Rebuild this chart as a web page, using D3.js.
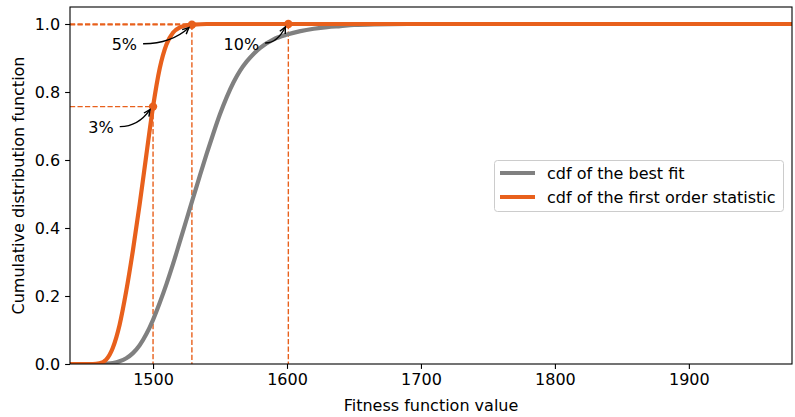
<!DOCTYPE html>
<html><head><meta charset="utf-8">
<script src="https://cdn.jsdelivr.net/npm/d3@7"></script>
<style>body{margin:0;background:#fff}svg{display:block}text{font-family:"DejaVu Sans",sans-serif;fill:#000}</style>
</head><body><svg id="c" width="795" height="417"></svg>
<script>
const xTicks = [1500, 1600, 1700, 1800, 1900];
const yTicks = [0.0, 0.2, 0.4, 0.6, 0.8, 1.0];
const xDomain = [1438, 1977];
const yDomain = [0, 1.05];
const seriesNames = ["cdf of the best fit", "cdf of the first order statistic"];
const bestFitX = [1438,1460,1465,1470,1475,1480,1485,1490,1495,1500,1505,1510,1515,1520,1525,1530,1535,1540,1545,1550,1555,1560,1565,1570,1575,1580,1590,1600,1610,1620,1630,1640,1650,1665,1690,1977];
const bestFitY = [0,0,0.001,0.003,0.008,0.017,0.032,0.055,0.088,0.13,0.18,0.235,0.295,0.36,0.425,0.49,0.555,0.618,0.678,0.735,0.785,0.828,0.863,0.89,0.912,0.93,0.955,0.969,0.979,0.986,0.991,0.994,0.997,0.999,1.0,1.0];
const orderX = [1438,1455,1460,1465,1470,1475,1480,1485,1490,1495,1500,1505,1510,1515,1520,1525,1530,1540,1977];
const orderY = [0,0,0.002,0.013,0.048,0.115,0.215,0.335,0.47,0.615,0.757,0.87,0.94,0.975,0.99,0.996,0.998,1.0,1.0];
const markX = [1500, 1529, 1601];
const markY = [0.757, 0.998, 1.0];
const markLabels = ["3%", "5%", "10%"];

const W = 795, H = 417;
const L = 70, R = 792, T = 7, B = 364;
const FS = "16px";
const orange = "#E8601C", grey = "#808080";
const svg = d3.select("#c");
const x = d3.scaleLinear().domain(xDomain).range([L, R]);
const y = d3.scaleLinear().domain(yDomain).range([B, T]);

svg.append("defs").append("clipPath").attr("id","clip")
  .append("rect").attr("x",L).attr("y",T).attr("width",R-L).attr("height",B-T);

const plot = svg.append("g").attr("clip-path","url(#clip)");
const line = d3.line().x(d=>x(d[0])).y(d=>y(d[1])).curve(d3.curveMonotoneX);

// dashed guide lines
markX.forEach((mx,i)=>{
  plot.append("line").attr("x1",x(xDomain[0])).attr("x2",x(mx)).attr("y1",y(markY[i])).attr("y2",y(markY[i]))
    .attr("stroke",orange).attr("stroke-width",1.4).attr("stroke-dasharray","5.2,2.3");
  plot.append("line").attr("x1",x(mx)).attr("x2",x(mx)).attr("y1",y(markY[i])).attr("y2",y(0))
    .attr("stroke",orange).attr("stroke-width",1.4).attr("stroke-dasharray","5.2,2.3");
});

plot.append("path").datum(d3.zip(bestFitX,bestFitY)).attr("d",line)
  .attr("fill","none").attr("stroke",grey).attr("stroke-width",4.2);
plot.append("path").datum(d3.zip(orderX,orderY)).attr("d",line)
  .attr("fill","none").attr("stroke",orange).attr("stroke-width",4.2);

svg.selectAll("circle.m").data(markX).enter().append("circle").attr("class","m")
  .attr("cx",d=>x(d)).attr("cy",(d,i)=>y(markY[i])).attr("r",4.2).attr("fill",orange);

// annotations
const offs = [[-52,21],[-67.5,20],[-47,20]];
markX.forEach((mx,i)=>{
  const px = x(mx), py = y(markY[i]);
  const tx = px+offs[i][0], ty = py+offs[i][1];
  const t = svg.append("text").attr("x",tx).attr("y",ty).attr("text-anchor","middle")
    .attr("dominant-baseline","central").attr("font-size",FS).text(markLabels[i]);
  const w = t.node().getComputedTextLength();
  const sx = tx + w/2 + 6, sy = ty - 1;
  const ex = px - 3, ey = py + 3;
  const cx = sx + (ex-sx)*0.6, cy = sy + (ey-sy)*0.05 + 1;
  svg.append("path").attr("d",`M${sx},${sy}Q${cx},${cy} ${ex},${ey}`)
    .attr("fill","none").attr("stroke","#000").attr("stroke-width",1.4);
  const ang = Math.atan2(ey-cy, ex-cx);
  const hl = 7, ha = 0.45;
  svg.append("path").attr("d",`M${ex-hl*Math.cos(ang-ha)},${ey-hl*Math.sin(ang-ha)}L${ex},${ey}L${ex-hl*Math.cos(ang+ha)},${ey-hl*Math.sin(ang+ha)}`)
    .attr("fill","none").attr("stroke","#000").attr("stroke-width",1.4);
});

// axes
const xa = svg.append("g").attr("transform",`translate(0,${B})`)
  .call(d3.axisBottom(x).tickValues(xTicks).tickSize(4.9).tickPadding(4.5).tickFormat(d3.format("d")));
const ya = svg.append("g").attr("transform",`translate(${L},0)`)
  .call(d3.axisLeft(y).tickValues(yTicks).tickSize(4.9).tickPadding(5).tickFormat(d3.format(".1f")));
[xa,ya].forEach(a=>{
  a.select(".domain").remove();
  a.selectAll("text").attr("font-size",FS).attr("font-family","DejaVu Sans");
  a.selectAll("line").attr("stroke","#000").attr("stroke-width",1.1);
});
svg.append("rect").attr("x",L).attr("y",T).attr("width",R-L).attr("height",B-T)
  .attr("fill","none").attr("stroke","#000").attr("stroke-width",1.1);

svg.append("text").attr("x",(L+R)/2).attr("y",411).attr("text-anchor","middle")
  .attr("font-size",FS).text("Fitness function value");
svg.append("text").attr("transform",`translate(24,${(T+B)/2}) rotate(-90)`).attr("text-anchor","middle")
  .attr("font-size",FS).text("Cumulative distribution function");

// legend
const lg = svg.append("g");
lg.append("rect").attr("x",494.5).attr("y",160.5).attr("width",289).attr("height",51).attr("rx",3)
  .attr("fill","#fff").attr("fill-opacity",0.8).attr("stroke","#cccccc").attr("stroke-width",1);
[grey, orange].forEach((c,i)=>{
  const yy = 173 + i*24;
  lg.append("line").attr("x1",500).attr("x2",535).attr("y1",yy).attr("y2",yy).attr("stroke",c).attr("stroke-width",4.2);
  lg.append("text").attr("x",547).attr("y",yy).attr("dominant-baseline","central").attr("font-size",FS).text(seriesNames[i]);
});
</script></body></html>
